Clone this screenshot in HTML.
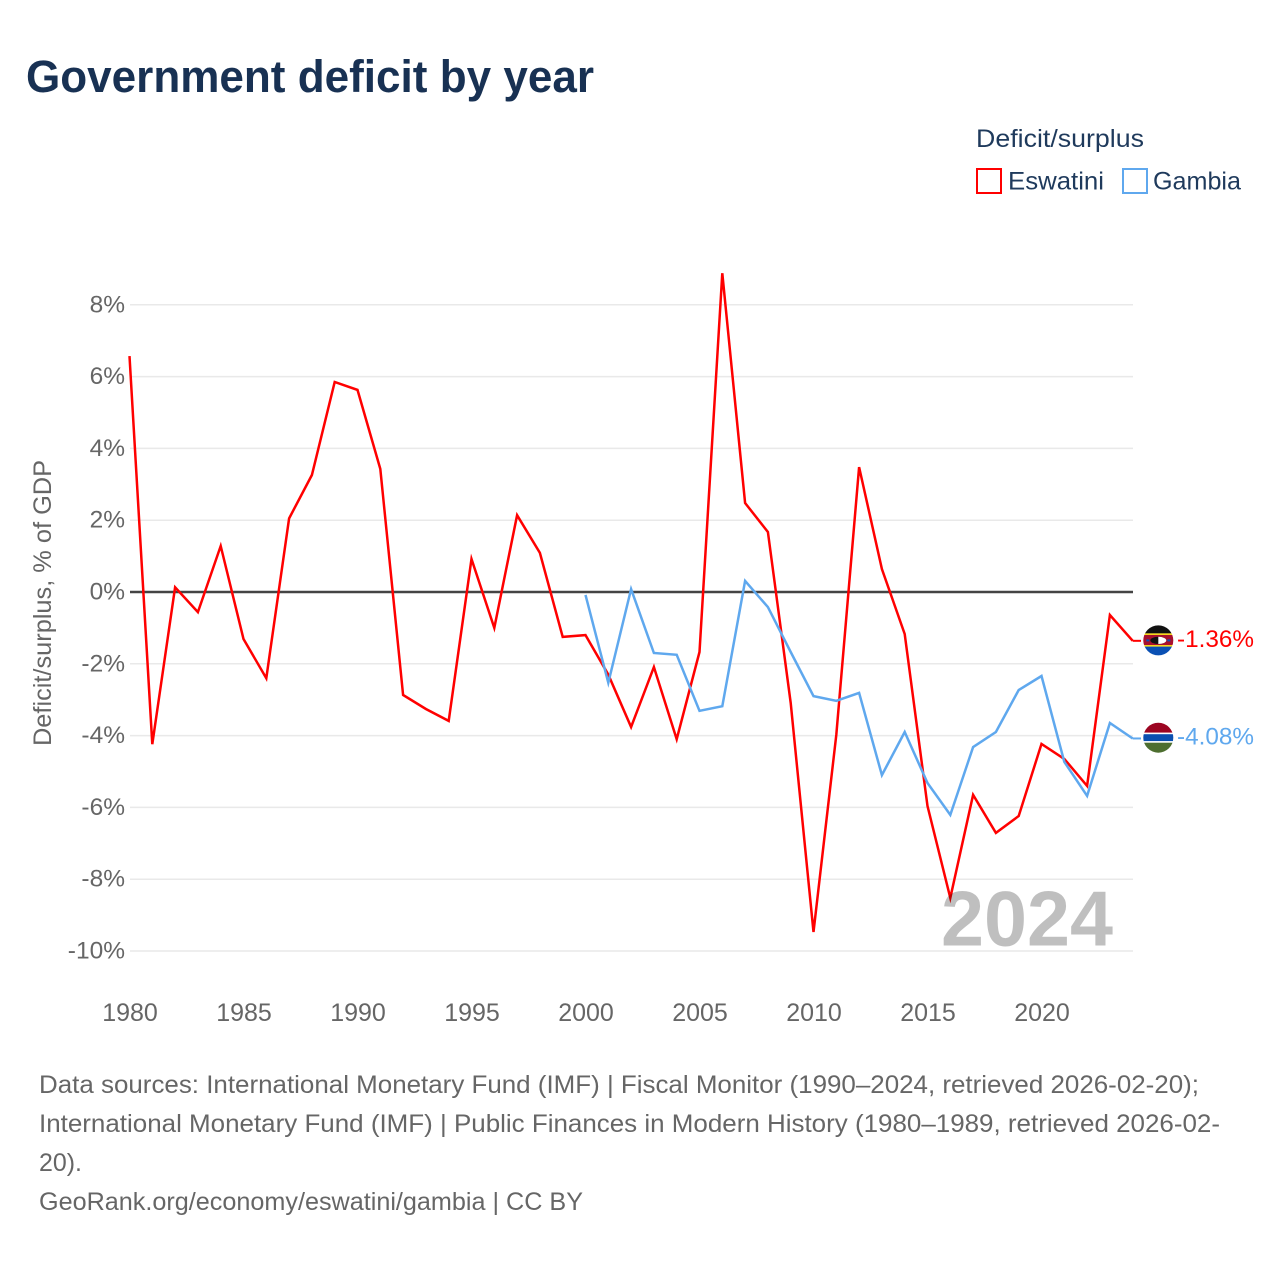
<!DOCTYPE html>
<html lang="en">
<head>
<meta charset="utf-8">
<title>Government deficit by year</title>
<style>
html,body{margin:0;padding:0;background:#fff;}
svg{display:block;font-family:"Liberation Sans",Arial,sans-serif;}
</style>
</head>
<body>
<svg id="chart" xmlns="http://www.w3.org/2000/svg" width="1280" height="1280" viewBox="0 0 1280 1280">
  <rect width="1280" height="1280" fill="#fff"/>
  <text x="26" y="92" font-size="45" font-weight="700" fill="#183153" textLength="568" lengthAdjust="spacingAndGlyphs">Government deficit by year</text>

  <text x="976" y="147" font-size="25" fill="#1f3a5c" textLength="168" lengthAdjust="spacingAndGlyphs">Deficit/surplus</text>
  <g>
    <rect x="977" y="169" width="24" height="24" fill="#fff" stroke="#ff0000" stroke-width="2"/>
    <text x="1008" y="189.5" font-size="25" fill="#1f3a5c" textLength="96" lengthAdjust="spacingAndGlyphs">Eswatini</text>
  </g>
  <g>
    <rect x="1123" y="169" width="24" height="24" fill="#fff" stroke="#5fa8ee" stroke-width="2"/>
    <text x="1153" y="189.5" font-size="25" fill="#1f3a5c" textLength="88" lengthAdjust="spacingAndGlyphs">Gambia</text>
  </g>

  <text transform="translate(51,603) rotate(-90)" text-anchor="middle" font-size="25" fill="#666" textLength="286" lengthAdjust="spacingAndGlyphs">Deficit/surplus, % of GDP</text>

  <g id="grid"></g>
  <g id="yticks"></g>
  <g id="xticks"></g>
  <g id="series"></g>
  <g id="flags"></g>

  <text x="941" y="945.5" font-size="78" font-weight="700" fill="#000" fill-opacity="0.25" textLength="172" lengthAdjust="spacingAndGlyphs">2024</text>

  <g font-size="25" fill="#666">
    <text x="39" y="1093" textLength="1160" lengthAdjust="spacingAndGlyphs">Data sources: International Monetary Fund (IMF) | Fiscal Monitor (1990–2024, retrieved 2026-02-20);</text>
    <text x="39" y="1132" textLength="1181" lengthAdjust="spacingAndGlyphs">International Monetary Fund (IMF) | Public Finances in Modern History (1980–1989, retrieved 2026-02-</text>
    <text x="39" y="1171" textLength="43" lengthAdjust="spacingAndGlyphs">20).</text>
    <text x="39" y="1210" textLength="544" lengthAdjust="spacingAndGlyphs">GeoRank.org/economy/eswatini/gambia | CC BY</text>
  </g>
</svg>
<script>
const years = [1980,1981,1982,1983,1984,1985,1986,1987,1988,1989,1990,1991,1992,1993,1994,1995,1996,1997,1998,1999,2000,2001,2002,2003,2004,2005,2006,2007,2008,2009,2010,2011,2012,2013,2014,2015,2016,2017,2018,2019,2020,2021,2022,2023,2024];
const eswatiniValues = [6.57,-4.24,0.13,-0.56,1.28,-1.31,-2.40,2.05,3.26,5.85,5.63,3.43,-2.87,-3.26,-3.59,0.92,-1.00,2.14,1.09,-1.25,-1.20,-2.30,-3.76,-2.09,-4.10,-1.67,8.88,2.48,1.67,-3.09,-9.47,-3.98,3.48,0.64,-1.17,-5.96,-8.52,-5.65,-6.71,-6.24,-4.23,-4.65,-5.40,-0.64,-1.36];
const gambiaYears = [2000,2001,2002,2003,2004,2005,2006,2007,2008,2009,2010,2011,2012,2013,2014,2015,2016,2017,2018,2019,2020,2021,2022,2023,2024];
const gambiaValues = [-0.08,-2.53,0.08,-1.70,-1.75,-3.31,-3.18,0.31,-0.42,-1.67,-2.90,-3.03,-2.81,-5.10,-3.90,-5.32,-6.21,-4.32,-3.90,-2.73,-2.34,-4.73,-5.68,-3.65,-4.08];
const yTickValues = [8,6,4,2,0,-2,-4,-6,-8,-10];
const xTickValues = [1980,1985,1990,1995,2000,2005,2010,2015,2020];

const NS = 'http://www.w3.org/2000/svg';
function xScale(year){ return 129.5 + (year - 1980) * 22.8; }
function yScale(value){ return 592 - value * 35.9; }
function make(tag, attrs, parent){
  const el = document.createElementNS(NS, tag);
  for (const k in attrs) el.setAttribute(k, attrs[k]);
  if (parent) parent.appendChild(el);
  return el;
}
const grid = document.getElementById('grid');
const yticks = document.getElementById('yticks');
const xticks = document.getElementById('xticks');
const seriesLayer = document.getElementById('series');
const flags = document.getElementById('flags');

yTickValues.forEach(function(v){
  const isZero = v === 0;
  if (!isZero) {
    const line = make('line', {x1:130, x2:1133, y1:yScale(v), y2:yScale(v), stroke:'#e9e9e9', 'stroke-width':1.5}, grid);
    
    
  }
  const label = make('text', {x:125, y:yScale(v) + 7.5, 'text-anchor':'end', 'font-size':24.5, fill:'#666'}, yticks);
  
  
  label.textContent = v + '%';
});
xTickValues.forEach(function(y){
  const label = make('text', {x:xScale(y) + 0.5, y:1021, 'text-anchor':'middle', 'font-size':25, fill:'#666'}, xticks);
  
  
  label.textContent = y;
});
const zeroLine = make('line', {x1:130, x2:1133, y1:yScale(0), y2:yScale(0), stroke:'#444', 'stroke-width':2.4}, grid);



function pathFrom(xs, vs){
  return xs.map(function(x, i){
    return (i ? 'L' : 'M') + xScale(x).toFixed(1) + ' ' + yScale(vs[i]).toFixed(1);
  }).join(' ');
}
const eswatiniLine = make('path', {d:pathFrom(years, eswatiniValues), fill:'none', stroke:'#ff0000', 'stroke-width':2.5, 'stroke-linejoin':'miter', 'stroke-miterlimit':6}, seriesLayer);


const gambiaLine = make('path', {d:pathFrom(gambiaYears, gambiaValues), fill:'none', stroke:'#5fa8ee', 'stroke-width':2.5, 'stroke-linejoin':'miter', 'stroke-miterlimit':6}, seriesLayer);



function bands(parent, list){
  list.forEach(function(b){
    make('rect', {x:-16, y:b[0], width:32, height:b[1], fill:b[2]}, parent);
  });
}
const defs = make('defs', {}, flags);
const clip = make('clipPath', {id:'flag-clip'}, defs);
make('circle', {cx:0, cy:0, r:15}, clip);

const lastEswatini = eswatiniValues[eswatiniValues.length - 1];
const lastGambia = gambiaValues[gambiaValues.length - 1];

const swStub = make('line', {x1:xScale(2024), x2:1141, y1:yScale(lastEswatini), y2:yScale(lastEswatini), stroke:'#ff0000', 'stroke-width':2}, flags);


const gmStub = make('line', {x1:xScale(2024), x2:1141, y1:yScale(lastGambia), y2:yScale(lastGambia), stroke:'#5fa8ee', 'stroke-width':2}, flags);



const swFlag = make('g', {transform:'translate(1158.3,' + (yScale(lastEswatini) - 0.4).toFixed(1) + ')'}, flags);


const swInner = make('g', {'clip-path':'url(#flag-clip)'}, swFlag);
bands(swInner, [[-16,9,'#111111'],[-7,1.6,'#f7d619'],[-5.4,10,'#a8102e'],[4.6,1.6,'#f7d619'],[6.2,10,'#0a50b4']]);
make('ellipse', {cx:0, cy:0, rx:8, ry:3.6, fill:'#111'}, swInner);
make('path', {d:'M0 -3.6 A8 3.6 0 0 1 0 3.6 Z', fill:'#fff'}, swInner);
make('rect', {x:-12, y:-1, width:3, height:2, fill:'#0a50b4'}, swInner);
make('rect', {x:9, y:-1, width:3, height:2, fill:'#0a50b4'}, swInner);

const gmFlag = make('g', {transform:'translate(1158.3,' + (yScale(lastGambia) - 0.8).toFixed(1) + ')'}, flags);


const gmInner = make('g', {'clip-path':'url(#flag-clip)'}, gmFlag);
bands(gmInner, [[-16,11,'#9c0522'],[-5,1.5,'#ffffff'],[-3.5,7,'#0a4fb0'],[3.5,1.5,'#ffffff'],[5,11,'#4d6e2f']]);

const swLabel = make('text', {x:1177, y:yScale(lastEswatini) + 6, 'font-size':24.5, fill:'#ff0000', textLength:77, lengthAdjust:'spacingAndGlyphs'}, flags);


swLabel.textContent = lastEswatini.toFixed(2) + '%';

const gmLabel = make('text', {x:1177, y:yScale(lastGambia) + 6, 'font-size':24.5, fill:'#5fa8ee', textLength:77, lengthAdjust:'spacingAndGlyphs'}, flags);


gmLabel.textContent = lastGambia.toFixed(2) + '%';
</script>
</body>
</html>
